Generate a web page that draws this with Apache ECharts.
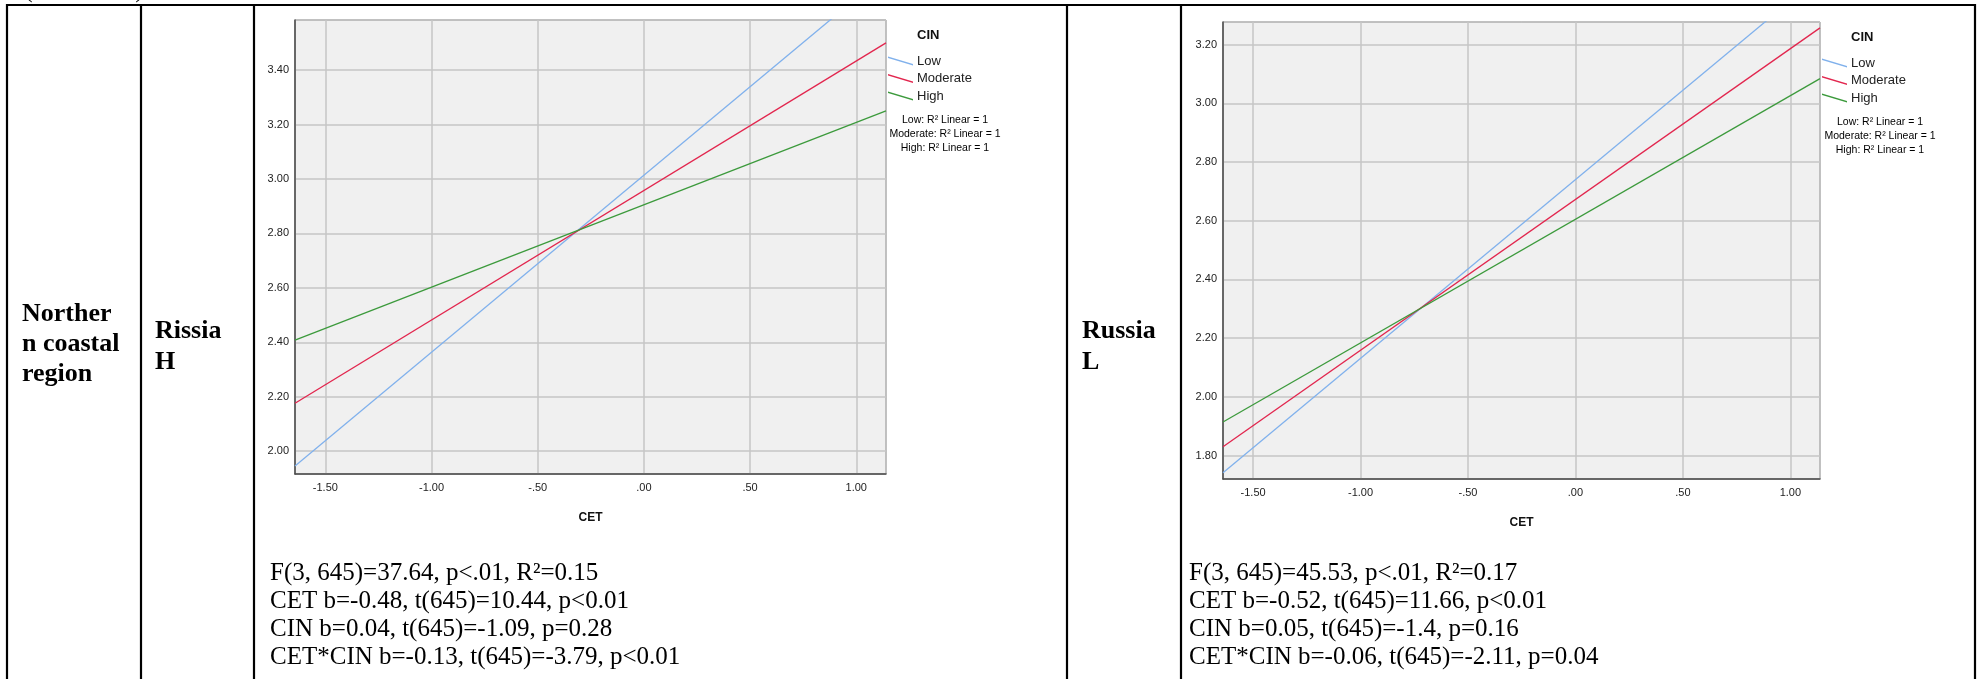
<!DOCTYPE html>
<html>
<head>
<meta charset="utf-8">
<script src="https://cdn.jsdelivr.net/npm/echarts@6/dist/echarts.min.js"></script>
<style>
  html, body { margin: 0; padding: 0; background: #fff; }
  #main { width: 1978px; height: 679px; }
</style>
</head>
<body>
<div id="main"></div>
<script>
// CET range covered by the fitted lines in each panel
const cetRangeH = [-1.643, 1.140];
const cetRangeL = [-1.640, 1.138];

// Fitted outcome at both ends of the CET range, one array per CIN level
const lowH = [1.945, 3.755];
const moderateH = [2.176, 3.500];
const highH = [2.408, 3.250];

const lowL = [1.741, 3.433];
const moderateL = [1.830, 3.257];
const highL = [1.914, 3.084];

// Vertical extent of each panel
const yRangeH = [1.916, 3.584];
const yRangeL = [1.720, 3.277];

const cinLevels = ['Low', 'Moderate', 'High'];
const cinColors = ['#80b1ec', '#e2264e', '#3c9a3c'];

const fitNotes = ['Low: R² Linear = 1', 'Moderate: R² Linear = 1', 'High: R² Linear = 1'];

const statsH = [
  'F(3, 645)=37.64, p<.01, R²=0.15',
  'CET b=-0.48, t(645)=10.44, p<0.01',
  'CIN b=0.04, t(645)=-1.09, p=0.28',
  'CET*CIN b=-0.13, t(645)=-3.79, p<0.01'
];
const statsL = [
  'F(3, 645)=45.53, p<.01, R²=0.17',
  'CET b=-0.52, t(645)=11.66, p<0.01',
  'CIN b=0.05, t(645)=-1.4, p=0.16',
  'CET*CIN b=-0.06, t(645)=-2.11, p=0.04'
];

const SANS = 'Liberation Sans, Arial, sans-serif';
const SERIF = 'Liberation Serif, Times New Roman, serif';

// SPSS style tick text: drop the leading zero (".50", "-.50")
function spssTick(v) {
  return v.toFixed(2).replace(/^(-?)0\./, '$1.');
}

function xAxisFor(gridIndex, range) {
  return {
    type: 'value', gridIndex: gridIndex, min: range[0], max: range[1], splitNumber: 6,
    axisLine: { show: true, onZero: false, lineStyle: { color: '#4a4a4a', width: 1.5 } },
    axisTick: { show: false },
    axisLabel: { formatter: spssTick, fontSize: 11, color: '#222', fontFamily: SANS, margin: 8,
                 showMinLabel: false, showMaxLabel: false },
    splitLine: { show: true, lineStyle: { color: '#c6c6c6', width: 1.5 } },
    name: 'CET', nameLocation: 'middle', nameGap: 38,
    nameTextStyle: { fontSize: 12, fontWeight: 'bold', color: '#111', fontFamily: SANS }
  };
}

function yAxisFor(gridIndex, range) {
  return {
    type: 'value', gridIndex: gridIndex, min: range[0], max: range[1], splitNumber: 8,
    axisLine: { show: true, onZero: false, lineStyle: { color: '#4a4a4a', width: 1.5 } },
    axisTick: { show: false },
    axisLabel: { formatter: v => v.toFixed(2), fontSize: 11, color: '#222', fontFamily: SANS, margin: 6,
                 showMinLabel: false, showMaxLabel: false },
    splitLine: { show: true, lineStyle: { color: '#c6c6c6', width: 1.5 } }
  };
}

function fitSeries(name, color, xs, ys, axisIndex) {
  return {
    type: 'line', name: name, xAxisIndex: axisIndex, yAxisIndex: axisIndex,
    data: xs.map((x, i) => [x, ys[i]]),
    showSymbol: false, silent: true, clip: true,
    lineStyle: { color: color, width: 1.3 }, itemStyle: { color: color }
  };
}

function legendFor(left, top) {
  return {
    orient: 'vertical', left: left, top: top, padding: 0,
    data: cinLevels, selectedMode: false,
    icon: 'path://M0,0L25,7.6L25,9L0,1.4Z',
    itemWidth: 25, itemHeight: 9, itemGap: 3.5,
    textStyle: { fontSize: 13, color: '#222', fontFamily: SANS, lineHeight: 14, padding: [0, 0, 0, -1] }
  };
}

// Table rules and cell text
const graphics = [];
function rule(x1, y1, x2, y2) {
  graphics.push({ type: 'line', silent: true, shape: { x1, y1, x2, y2 },
                  style: { stroke: '#000', lineWidth: 2.2 } });
}
function label(text, x, y, font, align) {
  graphics.push({ type: 'text', silent: true,
                  style: { text: text, x: x, y: y, font: font, fill: '#000',
                           align: align || 'left', verticalAlign: 'middle' } });
}

rule(6, 5, 1976, 5);
[7, 141, 254, 1067, 1181, 1975].forEach(x => rule(x, 4, x, 679));

label('(continued)', 24, -10, '26px ' + SERIF);

['Norther', 'n coastal', 'region'].forEach((t, i) => label(t, 22, 314 + i * 30, 'bold 26px ' + SERIF));
['Rissia', 'H'].forEach((t, i) => label(t, 155, 331 + i * 31, 'bold 26px ' + SERIF));
['Russia', 'L'].forEach((t, i) => label(t, 1082, 331 + i * 31, 'bold 26px ' + SERIF));

statsH.forEach((t, i) => label(t, 270, 573 + i * 28, '25px ' + SERIF));
statsL.forEach((t, i) => label(t, 1189, 573 + i * 28, '25px ' + SERIF));

fitNotes.forEach((t, i) => {
  label(t, 945, 120 + i * 14, '10.5px ' + SANS, 'center');
  label(t, 1880, 122 + i * 14, '10.5px ' + SANS, 'center');
});

const chart = echarts.init(document.getElementById('main'), null, { renderer: 'canvas' });
chart.setOption({
  animation: false,
  backgroundColor: '#fff',
  title: [
    { text: 'CIN', left: 917, top: 29, padding: 0,
      textStyle: { fontSize: 13, fontWeight: 'bold', color: '#111', fontFamily: SANS } },
    { text: 'CIN', left: 1851, top: 31, padding: 0,
      textStyle: { fontSize: 13, fontWeight: 'bold', color: '#111', fontFamily: SANS } }
  ],
  legend: [legendFor(888, 54), legendFor(1822, 56)],
  grid: [
    { left: 295, top: 20, width: 591, height: 454, show: true,
      backgroundColor: '#f0f0f0', borderColor: '#666', borderWidth: 1 },
    { left: 1223, top: 22, width: 597, height: 457, show: true,
      backgroundColor: '#f0f0f0', borderColor: '#666', borderWidth: 1 }
  ],
  xAxis: [xAxisFor(0, cetRangeH), xAxisFor(1, cetRangeL)],
  yAxis: [yAxisFor(0, yRangeH), yAxisFor(1, yRangeL)],
  series: [
    fitSeries(cinLevels[0], cinColors[0], cetRangeH, lowH, 0),
    fitSeries(cinLevels[1], cinColors[1], cetRangeH, moderateH, 0),
    fitSeries(cinLevels[2], cinColors[2], cetRangeH, highH, 0),
    fitSeries(cinLevels[0], cinColors[0], cetRangeL, lowL, 1),
    fitSeries(cinLevels[1], cinColors[1], cetRangeL, moderateL, 1),
    fitSeries(cinLevels[2], cinColors[2], cetRangeL, highL, 1)
  ],
  graphic: graphics
});
</script>
</body>
</html>
